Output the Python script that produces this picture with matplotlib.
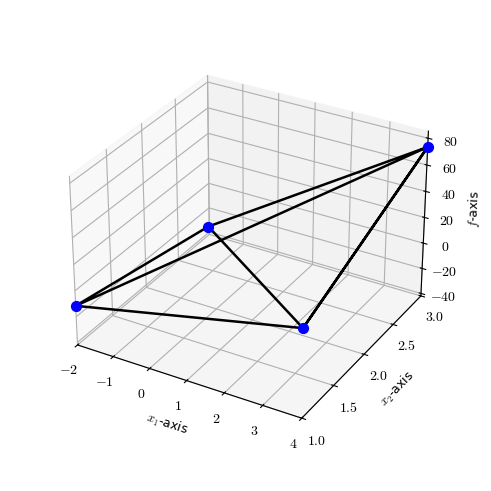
import matplotlib
matplotlib.use('Agg')
import matplotlib.pyplot as plt

plt.rcParams['mathtext.fontset'] = 'cm'

# tetrahedron corners: left, front, middle, back
corner_x1 = [-2, 4, -0.2, 4]
corner_x2 = [1.0, 1.0, 2.0, 3.0]
corner_f = [-11.5, 25, 21, 73.5]

# order the edges are walked in
edge_path = [0, 1, 2, 0, 3, 1, 3, 2]

x1_ticks = [-2, -1, 0, 1, 2, 3, 4]
x2_ticks = [1.0, 1.5, 2.0, 2.5, 3.0]
f_ticks = [-40, -20, 0, 20, 40, 60, 80]

fig = plt.figure(figsize=(4.91, 4.91), dpi=100)
ax = fig.add_axes([0.094, 0.097, 0.818, 0.813], projection='3d')

ax.plot([corner_x1[i] for i in edge_path],
        [corner_x2[i] for i in edge_path],
        [corner_f[i] for i in edge_path], color='black', linewidth=1.8)
ax.scatter(corner_x1, corner_x2, corner_f, color='blue', s=50, depthshade=False, alpha=1, zorder=10)

ax.set_xlim(-2, 4)
ax.set_ylim(1, 3)
ax.set_zlim(-42, 85.3)
ax.set_xticks(x1_ticks)
ax.set_yticks(x2_ticks)
ax.set_zticks(f_ticks)
ax.set_xticklabels(['$%d$' % t for t in x1_ticks], fontsize=10)
ax.set_yticklabels(['$%.1f$' % t for t in x2_ticks], fontsize=10)
ax.set_zticklabels(['$%d$' % t for t in f_ticks], fontsize=10)
ax.tick_params(axis='x', pad=1.5)
ax.tick_params(axis='y', pad=1.5)
ax.tick_params(axis='z', pad=2)
ax.set_xlabel('$x_1$-axis', fontsize=9, labelpad=1)
ax.set_ylabel('$x_2$-axis', fontsize=9, labelpad=1)
ax.set_zlabel('$f$-axis', fontsize=9, labelpad=1)

for axis in (ax.xaxis, ax.yaxis, ax.zaxis):
    axis.pane.set_edgecolor((0.95, 0.95, 0.95, 0.8))

fig.savefig('out.png', dpi=100)
